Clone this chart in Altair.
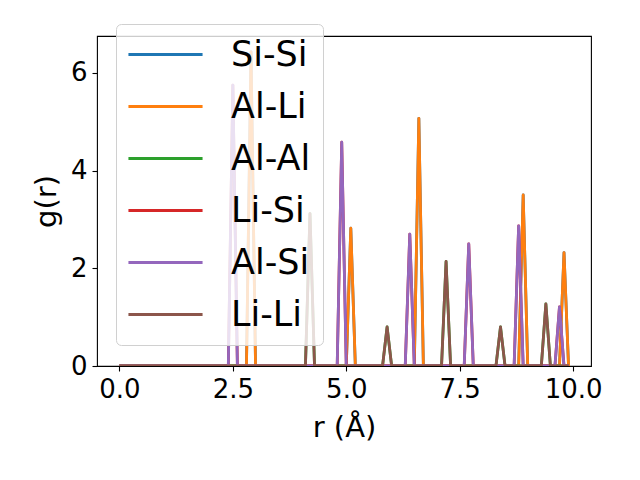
import altair as alt
import pandas as pd

# r grid (Å)
r_values = [round(0.1 * i, 1) for i in range(100)]

series_names = ["Si-Si", "Al-Li", "Al-Al", "Li-Si", "Al-Si", "Li-Li"]
series_colors = ["#1f77b4", "#ff7f0e", "#2ca02c", "#d62728", "#9467bd", "#8c564b"]

# non-zero g(r) values (all other points are 0)
peaks_al_li = {2.9: 6.43, 5.1: 2.82, 6.6: 5.07, 8.9: 3.50, 9.8: 2.32}
peaks_si_si = {2.9: 6.43, 5.1: 2.82, 6.6: 5.07, 8.9: 3.50, 9.8: 2.32}
peaks_al_si = {2.5: 5.75, 4.9: 4.58, 6.4: 2.70, 7.7: 2.50, 8.8: 2.87, 9.7: 1.21}
peaks_li_si = {2.5: 5.75, 4.9: 4.58, 6.4: 2.70, 7.7: 2.50, 8.8: 2.87, 9.7: 1.21}
peaks_li_li = {4.2: 3.12, 5.9: 0.80, 7.2: 2.14, 8.4: 0.80, 9.4: 1.27}
peaks_al_al = {4.2: 3.12, 5.9: 0.80, 7.2: 2.14, 8.4: 0.80, 9.4: 1.27}

peaks = {
    "Si-Si": peaks_si_si,
    "Al-Li": peaks_al_li,
    "Al-Al": peaks_al_al,
    "Li-Si": peaks_li_si,
    "Al-Si": peaks_al_si,
    "Li-Li": peaks_li_li,
}

rows = []
for name in series_names:
    for r in r_values:
        rows.append({"r": r, "g": peaks[name].get(r, 0.0), "pair": name})
df = pd.DataFrame(rows)

FONT = "DejaVu Sans"

color_scale = alt.Scale(domain=series_names, range=series_colors)
x_scale = alt.Scale(domain=[-0.495, 10.395], nice=False, zero=False)
y_scale = alt.Scale(domain=[0, 6.755], nice=False)

legend = alt.Legend(
    orient="none", legendX=19, legendY=-12, title=None,
    symbolType="M-2.18,0H2.18", symbolSize=1156, symbolStrokeWidth=2.8,
    symbolOffset=19, labelOffset=47,
    labelFontSize=35, labelFont=FONT, labelColor="black",
    rowPadding=15, padding=12,
    fillColor="rgba(255,255,255,0.8)", strokeColor="#d0d0d0", cornerRadius=5,
)

layers = []
for name in series_names:
    layers.append(
        alt.Chart(df)
        .transform_filter(alt.datum.pair == name)
        .mark_line(strokeWidth=2.8, strokeJoin="round", clip=True)
        .encode(
            x=alt.X("r:Q", scale=x_scale,
                    axis=alt.Axis(title="r (Å)", values=[0, 2.5, 5, 7.5, 10], format=".1f")),
            y=alt.Y("g:Q", scale=y_scale,
                    axis=alt.Axis(title="g(r)", values=[0, 2, 4, 6], format="d")),
            color=alt.Color("pair:N", scale=color_scale, legend=legend),
        )
    )

chart = (
    alt.layer(*layers)
    .properties(
        width=494, height=330,
        autosize=alt.AutoSizeParams(type="none"),
        padding={"left": 89, "top": 28, "right": 41, "bottom": 106},
    )
    .configure_view(stroke="black", strokeWidth=1.1)
    .configure_axis(
        grid=False, domain=False,
        tickColor="black", tickSize=5, tickWidth=1.1,
        labelFont=FONT, labelFontSize=26, labelColor="black", labelPadding=5,
        titleFont=FONT, titleFontSize=29, titleColor="black", titleFontWeight="normal",
    )
    .configure_axisX(titlePadding=11)
    .configure_axisY(titlePadding=9)
)

chart.save("out.html", embed_options={"renderer": "svg", "actions": False})
